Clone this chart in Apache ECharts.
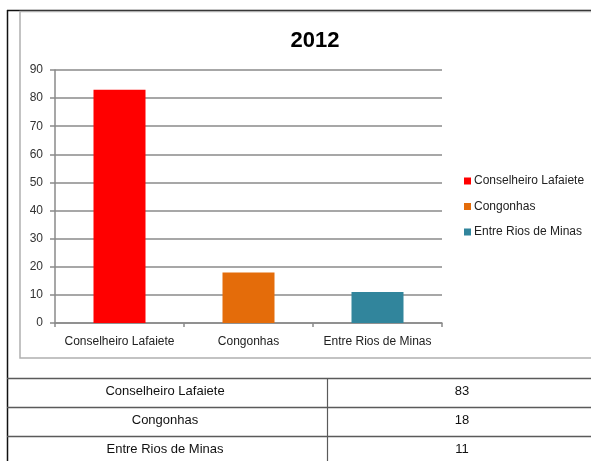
<!DOCTYPE html>
<html>
<head>
<meta charset="utf-8">
<script src="https://cdn.jsdelivr.net/npm/echarts@6/dist/echarts.min.js"></script>
<style>
  html, body { margin: 0; padding: 0; background: #fff; }
  #chart { width: 591px; height: 461px; }
</style>
</head>
<body>
<div id="chart"></div>
<script>
// Municipalities and their 2012 counts
const title = '2012';
const categories = ['Conselheiro Lafaiete', 'Congonhas', 'Entre Rios de Minas'];
const values = [83, 18, 11];
const colors = ['#ff0000', '#e46c0a', '#31859c'];
const yTicks = { min: 0, max: 90, interval: 10 };

const FONT = '"Liberation Sans", Arial, sans-serif';
const chart = echarts.init(document.getElementById('chart'), null, { renderer: 'canvas' });

// One series per municipality so each gets its own legend entry and colour;
// bars overlap on the same slot with barGap -100%.
const series = categories.map((name, i) => ({
  name: name,
  type: 'bar',
  barWidth: 52,
  barGap: '-100%',
  itemStyle: { color: colors[i] },
  data: categories.map((_, j) => (j === i ? values[i] : '-'))
}));

// Data table under the chart, built from the same arrays
const rowTop = 378, rowH = 29, colSplit = 327;
const tableGraphics = [];
[rowTop, rowTop + rowH, rowTop + 2 * rowH].forEach(y => {
  tableGraphics.push({
    type: 'line', shape: { x1: 7, y1: y + 0.5, x2: 591, y2: y + 0.5 },
    style: { stroke: '#5a5a5a', lineWidth: 1.5 }
  });
});
tableGraphics.push({
  type: 'line', shape: { x1: colSplit + 0.5, y1: rowTop, x2: colSplit + 0.5, y2: 461 },
  style: { stroke: '#5a5a5a', lineWidth: 1.2 }
});
categories.forEach((name, i) => {
  const cy = rowTop + rowH * i + 13.5;
  tableGraphics.push({
    type: 'text', x: 165, y: cy,
    style: { text: name, font: '13px ' + FONT, fill: '#111', align: 'center', verticalAlign: 'middle' }
  });
  tableGraphics.push({
    type: 'text', x: 462, y: cy,
    style: { text: String(values[i]), font: '13px ' + FONT, fill: '#111', align: 'center', verticalAlign: 'middle' }
  });
});

chart.setOption({
  animation: false,
  backgroundColor: '#fff',
  title: {
    text: title,
    left: 310,
    textAlign: 'center',
    top: 25,
    textStyle: { fontFamily: FONT, fontSize: 22, fontWeight: 'bold', color: '#000' }
  },
  legend: {
    orient: 'vertical',
    left: 459,
    top: 170,
    itemWidth: 7,
    itemHeight: 7,
    itemGap: 13.5,
    icon: 'rect',
    textStyle: { fontFamily: FONT, fontSize: 12, color: '#222', padding: [0, 0, 0, -2] },
    data: categories
  },
  grid: { left: 55, right: 149, top: 70, bottom: 138, containLabel: false },
  xAxis: {
    type: 'category',
    data: categories,
    axisLine: { lineStyle: { color: '#8a8a8a', width: 1.5 } },
    axisTick: { show: true, interval: 0, length: 4, lineStyle: { color: '#8a8a8a', width: 1.5 } },
    axisLabel: { interval: 0, fontFamily: FONT, fontSize: 12, color: '#222', margin: 13 }
  },
  yAxis: {
    type: 'value',
    min: yTicks.min,
    max: yTicks.max,
    interval: yTicks.interval,
    axisLine: { show: true, lineStyle: { color: '#8a8a8a', width: 1.5 } },
    axisTick: { show: true, length: 5, lineStyle: { color: '#8a8a8a', width: 1.5 } },
    axisLabel: { fontFamily: FONT, fontSize: 12, color: '#333', margin: 12 },
    splitLine: { lineStyle: { color: '#8a8a8a', width: 1.5 } }
  },
  series: series,
  graphic: [
    // outer black frame (top and left)
    { type: 'line', shape: { x1: 7, y1: 10.5, x2: 591, y2: 10.5 }, style: { stroke: '#111', lineWidth: 1.5 } },
    { type: 'line', shape: { x1: 7.5, y1: 10, x2: 7.5, y2: 461 }, style: { stroke: '#111', lineWidth: 1.5 } },
    // chart area border
    { type: 'rect', shape: { x: 20, y: 11.5, width: 600, height: 346.5 },
      style: { fill: 'none', stroke: '#b0b0b0', lineWidth: 1.5 }, silent: true }
  ].concat(tableGraphics)
});
</script>
</body>
</html>
